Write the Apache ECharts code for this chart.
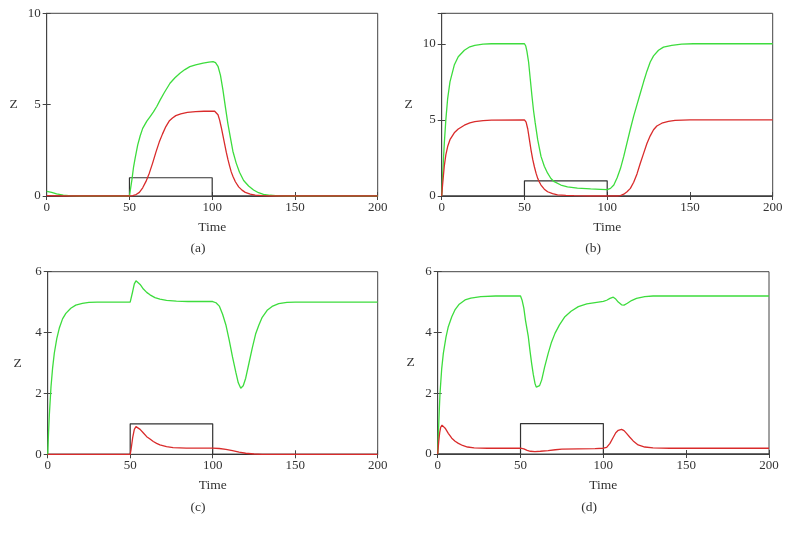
<!DOCTYPE html>
<html>
<head>
<meta charset="utf-8">
<script src="https://cdn.jsdelivr.net/npm/echarts@6/dist/echarts.min.js"></script>
<style>
html,body{margin:0;padding:0;background:#fff;}
#chart{width:790px;height:533px;}
</style>
</head>
<body>
<div id="chart"></div>
<script>
// ---- data ----
var xTicks = [0, 50, 100, 150, 200];
var pulse = [[0,0],[50,0],[50,1],[100,1],[100,0],[200,0]];

var greenA = [[0,0.25],[3,0.2],[6,0.12],[10,0.05],[15,0.01],[20,0],[50,0],[50.5,0.1],[51.5,0.9],[52.5,1.6],[53.5,2.1],[55,2.8],[56.5,3.3],[58,3.7],[60.5,4.1],[62.5,4.35],[64.5,4.6],[66.5,4.9],[68.5,5.25],[71,5.65],[74.5,6.17],[77.5,6.47],[80.5,6.72],[83.5,6.92],[86.5,7.08],[90,7.18],[94.5,7.27],[98,7.33],[100.5,7.36],[102,7.3],[103.5,7.1],[105,6.6],[106.5,5.8],[108,4.85],[109.5,3.95],[111,3.2],[112.5,2.45],[114.5,1.8],[116.5,1.3],[119,0.85],[122,0.55],[125,0.33],[128,0.18],[131,0.09],[135,0.04],[140,0.01],[145,0],[200,0]];
var redA = [[0,0.02],[10,0],[50,0],[52,0.02],[54,0.08],[56,0.2],[58,0.45],[60,0.8],[62,1.25],[64,1.8],[66,2.4],[68,2.95],[70,3.4],[72,3.8],[74,4.1],[76,4.27],[78,4.4],[81,4.5],[85,4.58],[90,4.62],[95,4.64],[100,4.65],[101.5,4.64],[102.5,4.58],[103.5,4.45],[104.5,4.15],[105.5,3.75],[106.5,3.3],[107.5,2.85],[108.5,2.4],[109.5,2.0],[110.5,1.65],[111.5,1.32],[112.5,1.08],[114,0.78],[116,0.5],[118,0.32],[120,0.2],[123,0.1],[126,0.05],[130,0.02],[135,0],[200,0]];

var greenB = [[0,0],[0.5,1.2],[1,2.3],[1.6,3.5],[2.5,5.0],[3.6,6.4],[5,7.5],[7.6,8.6],[10,9.15],[13.7,9.57],[17,9.8],[20,9.9],[25,9.97],[30,10],[50,10],[50.8,9.85],[51.5,9.5],[52.5,8.8],[53.5,7.7],[54.5,6.6],[55.5,5.6],[56.5,4.8],[58,3.7],[60,2.6],[62,1.95],[64,1.5],[66,1.15],[68,0.94],[72,0.72],[76,0.6],[82,0.52],[90,0.47],[96,0.44],[100,0.42],[102,0.5],[104,0.72],[106,1.2],[108,1.8],[110,2.6],[112,3.5],[114,4.4],[116,5.25],[118,6.0],[120,6.75],[122,7.5],[124,8.2],[126,8.8],[128,9.2],[131,9.57],[134,9.78],[139,9.9],[145,9.97],[152,10],[200,10]];
var redB = [[0,0],[0.5,0.7],[1,1.3],[1.6,2.0],[2.5,2.7],[3.6,3.25],[5,3.7],[7.6,4.15],[10,4.4],[13.7,4.65],[17,4.8],[20,4.88],[25,4.95],[30,4.99],[50,5],[51,4.85],[52,4.4],[53,3.7],[54,3.0],[55,2.4],[56,1.92],[57,1.5],[58,1.16],[59,0.92],[60,0.72],[62,0.45],[64,0.28],[67,0.15],[70,0.08],[75,0.04],[80,0.02],[90,0],[106,0],[108,0.03],[110,0.12],[112,0.28],[114,0.5],[116,0.9],[118,1.45],[120,2.15],[122,2.8],[124,3.45],[126,3.95],[128,4.35],[130,4.6],[133,4.78],[137,4.9],[141,4.97],[150,5],[200,5]];

var greenC = [[0,0],[0.5,0.7],[1,1.3],[2,2.22],[3,2.85],[4,3.32],[5.5,3.8],[7,4.14],[9,4.45],[11,4.63],[14,4.8],[17,4.9],[21,4.96],[25,4.99],[30,5],[50,5],[50.5,5.05],[51.5,5.35],[52.5,5.6],[53.5,5.7],[54.5,5.68],[56,5.58],[58,5.43],[60,5.32],[62,5.24],[65,5.15],[68,5.1],[72,5.06],[78,5.03],[85,5.02],[100,5.02],[102,4.98],[104,4.87],[106,4.6],[108,4.25],[110,3.75],[112,3.2],[114,2.7],[115.5,2.35],[117,2.17],[118.5,2.25],[120,2.5],[122,3.0],[124,3.5],[126,3.95],[128,4.25],[130,4.5],[133,4.73],[136,4.86],[140,4.95],[145,4.99],[150,5],[200,5]];
var redC = [[0,0],[50,0],[50.5,0.15],[51.5,0.55],[52.5,0.82],[53.5,0.91],[54.5,0.9],[56,0.82],[58,0.7],[60,0.58],[62,0.5],[64,0.42],[66,0.36],[68,0.31],[72,0.25],[76,0.22],[84,0.2],[100,0.2],[104,0.19],[108,0.16],[112,0.12],[116,0.07],[120,0.035],[125,0.01],[130,0],[200,0]];

var greenD = [[0,0],[0.5,0.8],[1,1.5],[1.4,2.0],[2.4,2.8],[3.4,3.31],[5,3.85],[6.4,4.19],[8.5,4.52],[10.4,4.74],[13,4.93],[16.5,5.07],[20,5.13],[26,5.18],[35,5.2],[50,5.2],[51,5.05],[52,4.8],[53,4.4],[54.7,3.86],[55.7,3.4],[56.7,2.98],[57.7,2.62],[58.7,2.33],[59.5,2.2],[60.3,2.16],[61.5,2.25],[62.8,2.44],[64.5,2.85],[66.7,3.31],[68.7,3.68],[70.8,3.97],[73.5,4.25],[76.8,4.52],[80.5,4.7],[84.9,4.85],[90,4.94],[95,4.98],[100,5.02],[102,5.06],[104,5.12],[106,5.16],[107.5,5.1],[109,5.0],[111,4.91],[112.5,4.9],[114.5,4.96],[117,5.05],[120,5.12],[125,5.18],[130,5.2],[200,5.2]];
var redD = [[0,0],[0.6,0.4],[1.2,0.7],[1.8,0.88],[2.6,0.95],[3.4,0.94],[4.5,0.85],[6.4,0.68],[8.5,0.52],[10.5,0.42],[12.5,0.35],[15,0.28],[18,0.23],[22,0.2],[30,0.19],[50,0.19],[52,0.17],[54,0.12],[56,0.09],[58.7,0.08],[62,0.09],[66.7,0.11],[71,0.14],[75,0.16],[85,0.17],[95,0.18],[100,0.19],[102,0.22],[104,0.35],[106,0.55],[107.5,0.7],[109,0.78],[111,0.81],[112.5,0.77],[114,0.68],[116,0.55],[118,0.43],[121,0.3],[125,0.23],[130,0.2],[140,0.19],[200,0.19]];

var yMaxes = [10, 12, 6, 6];
var yIntervals = [5, 5, 2, 2];
var captions = ['(a)', '(b)', '(c)', '(d)'];
var greens = [greenA, greenB, greenC, greenD];
var reds = [redA, redB, redC, redD];

// ---- layout ----
var FONT = 'Liberation Serif';
var grids = [
  {left: 46.7, top: 13.3, width: 331, height: 182.7},
  {left: 441.7, top: 13.3, width: 331, height: 182.7},
  {left: 47.7, top: 271.7, width: 330, height: 182.6},
  {left: 437.7, top: 271.7, width: 331.3, height: 182.3}
];
var zGaps = [29, 29, 26, 23];
var capPos = [[198, 248], [593, 248], [198, 507], [589, 507]];

var axisColor = '#444';
var xAxes = [], yAxes = [], series = [], graphics = [];
grids.forEach(function (g, i) {
  g.show = true; g.borderColor = axisColor; g.borderWidth = 1; g.containLabel = false;
  var ymax = yMaxes[i];
  xAxes.push({
    type: 'value', gridIndex: i, min: 0, max: 200, interval: 50, position: 'bottom',
    name: 'Time', nameLocation: 'middle', nameGap: 24,
    nameTextStyle: {fontFamily: FONT, fontSize: 13.5, color: '#333'},
    axisLine: {show: true, lineStyle: {color: axisColor, width: 1}},
    axisTick: {show: true, inside: true, length: 4, lineStyle: {color: axisColor}},
    axisLabel: {fontFamily: FONT, fontSize: 13, color: '#333', margin: 5},
    splitLine: {show: false}
  });
  xAxes.push({
    type: 'value', gridIndex: i, min: 0, max: 200, interval: 50, position: 'top',
    axisLine: {show: true, lineStyle: {color: axisColor, width: 1}},
    axisTick: {show: true, inside: true, length: 4, lineStyle: {color: axisColor}},
    axisLabel: {show: false}, splitLine: {show: false}
  });
  yAxes.push({
    type: 'value', gridIndex: i, min: 0, max: ymax, interval: yIntervals[i], position: 'left',
    name: 'Z', nameLocation: 'middle', nameRotate: 0, nameGap: zGaps[i],
    nameTextStyle: {fontFamily: FONT, fontSize: 13.5, color: '#333'},
    axisLine: {show: true, lineStyle: {color: axisColor, width: 1}},
    axisTick: {show: true, inside: true, length: 4, lineStyle: {color: axisColor}},
    axisLabel: {fontFamily: FONT, fontSize: 13, color: '#333', margin: 6,
      formatter: function (v) { return (v % yIntervals[i] === 0) ? String(v) : ''; }},
    splitLine: {show: false}
  });
  yAxes.push({
    type: 'value', gridIndex: i, min: 0, max: ymax, interval: yIntervals[i], position: 'right',
    axisLine: {show: true, lineStyle: {color: axisColor, width: 1}},
    axisTick: {show: true, inside: true, length: 4, lineStyle: {color: axisColor}},
    axisLabel: {show: false}, splitLine: {show: false}
  });
  var xi = i * 2, yi = i * 2;
  series.push({type: 'line', xAxisIndex: xi, yAxisIndex: yi, data: pulse, showSymbol: false, symbol: 'none',
    lineStyle: {color: '#333', width: 1.2}, z: 2, animation: false});
  series.push({type: 'line', xAxisIndex: xi, yAxisIndex: yi, data: greens[i], showSymbol: false, symbol: 'none',
    lineStyle: {color: '#3ddc3d', width: 1.3}, z: 3, animation: false});
  series.push({type: 'line', xAxisIndex: xi, yAxisIndex: yi, data: reds[i], showSymbol: false, symbol: 'none',
    lineStyle: {color: '#d92b2b', width: 1.3}, z: 4, animation: false});
  graphics.push({type: 'text', x: capPos[i][0], y: capPos[i][1],
    style: {text: captions[i], font: '13.5px "' + FONT + '"', fill: '#333', textAlign: 'center', textVerticalAlign: 'middle'}});
});

var chart = echarts.init(document.getElementById('chart'), null, {renderer: 'canvas'});
chart.setOption({
  animation: false,
  backgroundColor: '#fff',
  grid: grids,
  xAxis: xAxes,
  yAxis: yAxes,
  series: series,
  graphic: graphics
});
</script>
</body>
</html>
